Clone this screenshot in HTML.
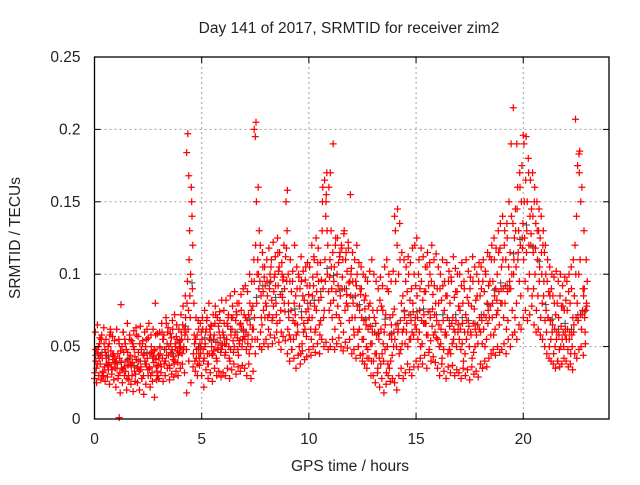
<!DOCTYPE html>
<html><head><meta charset="utf-8"><style>
body{margin:0;background:#fff;}
svg text{font-family:"Liberation Sans",sans-serif;font-size:15.5px;fill:#222;}
</style></head><body>
<svg id="chart" width="640" height="480" viewBox="0 0 640 480">
<rect width="640" height="480" fill="#fff"/>
<g id="grid"></g>
<g id="marks"></g>
<g id="axes"></g>
<text x="349" y="33" text-anchor="middle">Day 141 of 2017, SRMTID for receiver zim2</text>
<text x="350" y="471" text-anchor="middle">GPS time / hours</text>
<text transform="translate(20,238) rotate(-90)" text-anchor="middle">SRMTID / TECUs</text>
</svg>
<script>
const xTicks=[0,5,10,15,20];
const yTicks=[0,0.05,0.1,0.15,0.2,0.25];
const yTickLabels=["0","0.05","0.1","0.15","0.2","0.25"];
const lo=[28,25,30,27,32,26,29,24,31,27,22,28,18,25,30,20,27,24,19,26,25,20,28,17,24,30,22,26,15,27,28,32,26,30,35,27,31,29,33,30,35,38,32,18,40,25,36,33,30,37,30,22,34,28,32,26,35,30,33,29,32,30,35,28,34,38,31,36,33,37,35,30,38,28,33,45,55,50,48,52,55,50,58,52,56,60,53,48,57,54,45,40,48,42,35,44,38,47,41,43,48,44,50,46,52,45,55,50,53,48,50,55,48,52,56,50,47,53,49,55,45,48,42,50,44,40,38,35,42,30,30,25,32,22,28,18,24,30,26,28,25,20,30,35,28,32,38,34,30,36,40,36,42,38,44,35,46,40,43,39,35,30,38,33,28,36,32,37,30,34,32,28,35,30,34,27,36,31,33,29,38,35,40,36,42,45,48,44,50,46,48,52,45,55,50,58,60,55,65,62,70,75,68,72,78,65,60,62,58,55,50,45,42,40,38,35,40,36,38,42,40,36,38,34,45,42,48,50,44,52];
const hi=[60,65,52,58,63,55,50,62,57,54,62,55,79,60,52,66,58,54,61,63,57,64,52,60,55,66,58,62,80,59,60,66,58,70,63,59,68,72,65,62,72,78,85,95,130,150,80,70,68,66,70,75,68,80,65,72,78,70,74,82,75,82,70,85,78,88,72,80,86,90,92,88,100,95,110,205,160,120,115,105,110,118,105,122,112,125,115,108,120,150,100,110,95,120,105,98,112,102,96,108,105,120,112,125,118,108,150,165,170,160,130,190,120,125,112,118,128,115,122,155,115,110,120,108,105,100,98,95,102,110,100,95,90,98,92,105,110,100,95,102,130,145,135,115,110,105,112,108,118,120,125,110,118,112,105,115,108,120,110,114,105,100,110,95,108,102,98,112,104,100,100,108,95,110,102,98,112,105,100,108,105,110,102,115,112,120,125,118,130,135,140,130,135,150,190,215,145,160,170,175,190,195,180,165,170,160,150,145,140,130,120,110,105,100,98,102,95,100,92,98,95,100,105,110,207,175,185,160,130,110];
const m1=[40,45,38,42,36,44,39,47,41,35,38,42,35,46,40,37,44,39,33,41,40,36,44,38,42,35,46,39,41,37,45,42,48,44,50,46,41,52,47,49,55,50,60,62,70,90,52,48,45,50,48,52,45,55,50,47,53,49,56,51,52,55,50,58,54,60,56,52,62,57,60,58,65,62,70,80,90,85,88,92,85,90,82,88,80,92,86,84,90,95,70,75,68,72,65,78,70,66,74,76,80,85,78,88,82,84,90,95,100,98,90,95,88,92,85,98,90,86,94,100,80,85,78,75,70,68,65,62,64,60,60,58,55,62,52,65,50,58,55,60,65,62,68,60,70,66,72,68,74,70,70,75,68,72,66,74,70,76,72,68,65,62,68,60,70,64,66,62,68,65,62,66,60,68,64,58,66,62,65,70,68,72,70,75,78,80,85,82,88,90,90,92,88,95,100,110,105,115,120,118,125,130,120,128,115,118,110,105,100,95,75,70,68,65,62,60,58,64,60,62,62,60,58,65,70,68,72,75,70,78];
const m2=[35,50,44,33,48,38,52,36,45,40,45,32,50,36,48,30,38,52,43,35,33,48,30,50,34,45,32,47,36,44,38,55,40,52,37,56,43,50,39,54,45,62,48,75,100,120,40,58,42,60,40,60,38,62,44,58,42,64,46,60,44,66,42,70,46,68,48,65,50,72,48,72,50,78,55,100,130,70,75,80,70,100,68,98,72,102,75,96,74,130,58,88,55,85,60,90,52,82,57,86,62,98,60,100,65,96,70,140,120,110,70,105,72,108,66,110,75,102,68,104,62,95,60,90,55,82,50,78,52,75,45,75,42,78,40,72,38,70,44,76,50,100,48,85,52,88,55,90,58,92,55,90,52,88,58,92,54,86,60,90,50,82,48,85,45,80,52,84,50,78,48,80,45,84,50,78,46,82,52,85,52,88,55,92,58,95,62,100,65,105,70,110,68,115,75,125,80,130,85,135,95,150,100,145,90,135,85,125,80,115,60,88,55,85,50,80,48,78,50,82,48,80,50,85,140,100,150,90,60,95];
const m3=[32,48,42,55,30,46,37,58,34,43,40,30,47,34,55,28,42,36,50,31,36,52,28,45,38,56,30,42,48,33,42,36,55,40,60,35,48,38,57,44,50,65,58,80,110,160,45,55,38,52,55,42,62,38,58,45,66,40,60,48,58,46,64,40,62,50,74,44,66,55,55,68,45,75,62,120,110,95,65,98,78,62,95,70,100,66,105,60,98,112,62,95,48,80,58,100,45,85,62,92,70,55,92,62,108,58,130,75,155,88,80,115,62,100,70,120,60,110,78,95,70,58,92,50,86,45,76,42,70,40,40,66,35,82,45,60,32,88,40,72,55,120,45,80,62,95,50,82,60,100,62,100,50,82,66,105,48,95,58,80,55,90,42,75,58,95,45,70,60,88,55,92,40,72,60,90,42,76,58,95,60,95,50,80,70,110,58,90,75,118,80,120,62,105,90,135,70,145,95,150,110,165,90,140,85,150,75,130,70,120,68,95,50,90,45,72,40,85,55,75,55,88,45,70,120,80,170,62,85,75];
const m4=[48,38,56,30,52,42,34,60,44,38,35,52,40,60,33,46,55,30,48,58,46,34,54,40,62,36,50,44,58,30,50,60,38,66,44,52,62,40,55,46,60,48,70,55,85,140,58,42,62,45,62,50,70,45,64,55,72,48,68,52,66,52,72,48,70,58,80,54,75,62,70,52,80,55,95,150,100,60,105,70,95,72,110,78,92,115,68,100,80,118,80,55,102,66,90,50,95,60,105,68,92,70,110,75,95,68,160,110,130,75,105,82,125,78,115,90,130,80,118,85,95,70,100,62,90,55,85,48,80,52,70,45,60,38,75,48,90,35,65,50,95,60,110,52,75,60,100,55,80,65,85,60,95,66,88,58,100,64,92,56,80,52,92,58,85,48,95,55,88,60,75,52,90,55,80,60,95,50,85,62,90,62,100,66,95,70,110,72,115,80,110,80,125,90,140,100,130,110,160,125,150,115,170,120,140,100,130,95,115,85,100,70,85,60,80,55,70,50,78,58,75,55,90,60,100,68,110,72,90,80];
const extraT=[1.15,4.35,4.3,7.45,9.0,11.0,14.0,19.7,20.0,22.6,4.4,7.5,10.8];
const extraV=[1,197,184,200,158,170,140,190,196,183,168,195,150];
const NS="http://www.w3.org/2000/svg";
const L=94.5,R=609,T=57,B=419;
function xs(t){return L+(t/24)*(R-L);}
function ys(v){return B-(v/0.25)*(B-T);}
const grid=document.getElementById('grid'),axes=document.getElementById('axes'),marks=document.getElementById('marks');
function mk(tag,attrs,parent){const e=document.createElementNS(NS,tag);for(const k in attrs)e.setAttribute(k,attrs[k]);parent.appendChild(e);return e;}
xTicks.forEach(t=>{const x=xs(t);
 if(t>0){const g=mk('line',{x1:x,x2:x,y1:T,y2:B,stroke:'#a0a0a0','stroke-dasharray':'2,3'},grid);
 
 }
 mk('line',{x1:x,x2:x,y1:B,y2:B-6,stroke:'#000'},axes);mk('line',{x1:x,x2:x,y1:T,y2:T+6,stroke:'#000'},axes);
 const tx=mk('text',{x:x,y:B+25,'text-anchor':'middle'},axes);tx.textContent=t;
 
 });
yTicks.forEach((v,i)=>{const y=ys(v);
 if(v>0&&v<0.25){const g=mk('line',{x1:L,x2:R,y1:y,y2:y,stroke:'#a0a0a0','stroke-dasharray':'2,3'},grid);
 
 }
 mk('line',{x1:L,x2:L+6,y1:y,y2:y,stroke:'#000'},axes);mk('line',{x1:R,x2:R-6,y1:y,y2:y,stroke:'#000'},axes);
 const tx=mk('text',{x:L-14,y:y+5,'text-anchor':'end'},axes);tx.textContent=yTickLabels[i];
 
 });
const fr=mk('rect',{x:L,y:T,width:R-L,height:B-T,fill:'none',stroke:'#000','stroke-width':1.3},axes);


let d='';
function cross(t,v){const x=xs(t),y=ys(v/1000);d+=`M${(x-3.5).toFixed(1)} ${y.toFixed(1)}h7M${x.toFixed(1)} ${(y-3.5).toFixed(1)}v7`;}
let dg='';
m2.forEach((v,i)=>{if(i%3===0){const x=xs(i/10+0.05),y=ys(m1[i]/1000+0.004);dg+=`M${(x-3.5).toFixed(1)} ${y.toFixed(1)}h7M${x.toFixed(1)} ${(y-3.5).toFixed(1)}v7`;}});
const pg=mk('path',{d:dg,stroke:'#444',fill:'none','stroke-width':1},marks);


const offs=[0,0.035,0.065,0.085,0.015,0.05];
[lo,hi,m1,m2,m3,m4].forEach((arr,k)=>arr.forEach((v,i)=>cross(i/10+offs[k],v)));
extraT.forEach((t,i)=>cross(t,extraV[i]));
const p=mk('path',{d:d,stroke:'#ff0000',fill:'none','stroke-width':1.25},marks);


</script>
</body></html>
